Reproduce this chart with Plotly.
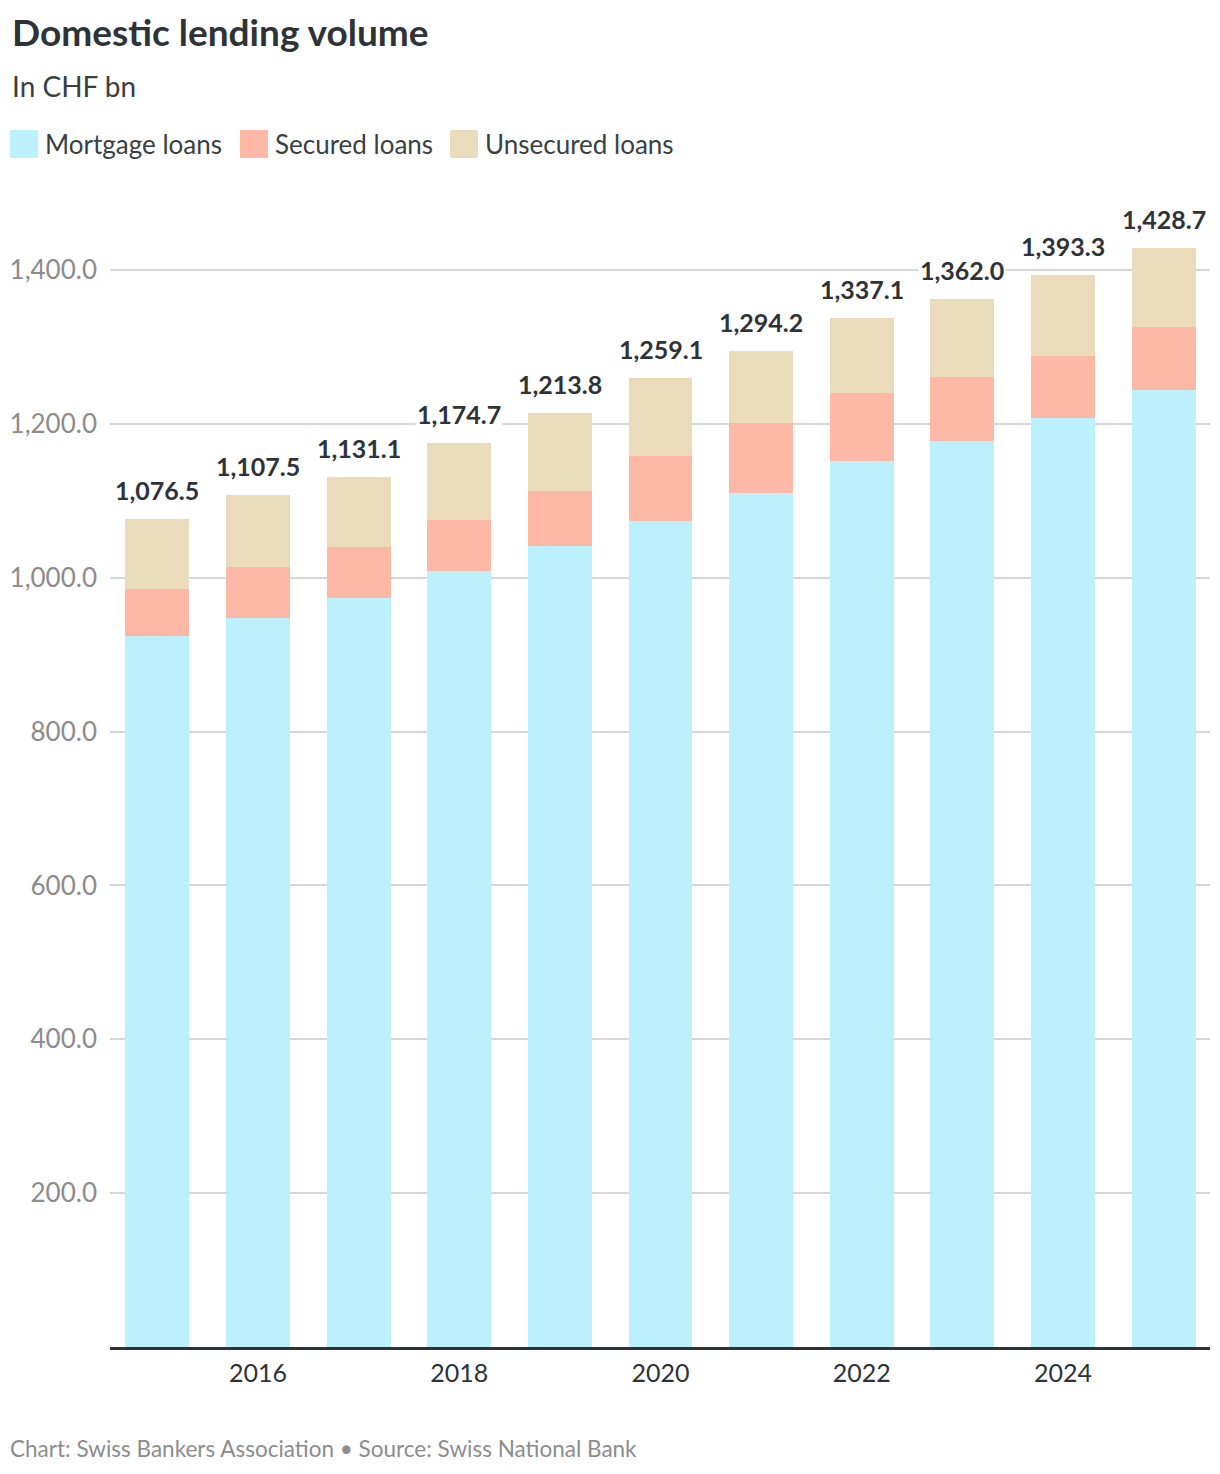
import plotly.graph_objects as go

years = [2015, 2016, 2017, 2018, 2019, 2020, 2021, 2022, 2023, 2024, 2025]
mortgage = [924.7, 948.1, 974.0, 1009.1, 1041.6, 1074.0, 1110.4, 1152.0, 1178.0, 1207.8, 1244.2]
secured = [61.0, 66.2, 66.3, 66.2, 71.4, 84.4, 90.6, 88.0, 83.0, 80.5, 81.8]
unsecured = [90.8, 93.2, 90.8, 99.4, 100.8, 100.7, 93.2, 97.1, 101.0, 105.0, 102.7]
totals = [1076.5, 1107.5, 1131.1, 1174.7, 1213.8, 1259.1, 1294.2, 1337.1, 1362.0, 1393.3, 1428.7]
y_ticks = [200, 400, 600, 800, 1000, 1200, 1400]
x_ticks = [2016, 2018, 2020, 2022, 2024]

series = [
    ("Mortgage loans", mortgage, "#bdf0fd"),
    ("Secured loans", secured, "#fdb8a6"),
    ("Unsecured loans", unsecured, "#eadcbb"),
]

# the page puts the figure 8px in from the top-left corner
OFF = 8
W, H = 1220 - OFF, 1474 - OFF
M_L, M_R, M_T, M_B = 110 - OFF, 10, 193 - OFF, 127
FONT = "Lato"
DARK = "#2e3337"
GREY = "#8c8c8c"


def px_x(x):
    # x in screenshot pixels -> paper coords
    return (x - OFF - M_L) / (W - M_L - M_R)


def px_y(y):
    return (H - M_B - (y - OFF)) / (H - M_T - M_B)


fig = go.Figure()
for name, vals, color in series:
    fig.add_trace(go.Bar(x=years, y=vals, name=name, marker_color=color,
                         marker_line_width=0, showlegend=False, hoverinfo="x+y"))

# total labels above each stack
for yr, tot in zip(years, totals):
    fig.add_annotation(x=yr, y=tot, text=f"<b>{tot:,.1f}</b>", showarrow=False,
                       yshift=29, bgcolor="white", borderpad=1,
                       font=dict(family=FONT, size=25, color=DARK))

# title block
fig.add_annotation(x=px_x(10), y=px_y(31), xref="paper", yref="paper", xanchor="left",
                   yanchor="middle", showarrow=False, text="<b>Domestic lending volume</b>",
                   font=dict(family=FONT, size=37, color=DARK))
fig.add_annotation(x=px_x(10), y=px_y(86), xref="paper", yref="paper", xanchor="left",
                   yanchor="middle", showarrow=False, text="In CHF bn",
                   font=dict(family=FONT, size=28, color="#3a3f43"))

# legend drawn by hand so the swatches match the original size
legend_x = [10, 240, 450]
for (name, _, color), lx in zip(series, legend_x):
    fig.add_shape(type="rect", xref="paper", yref="paper",
                  x0=px_x(lx), x1=px_x(lx + 28), y0=px_y(158), y1=px_y(130),
                  fillcolor=color, line_width=0)
    fig.add_annotation(x=px_x(lx + 33), y=px_y(144), xref="paper", yref="paper",
                       xanchor="left", yanchor="middle", showarrow=False, text=name,
                       font=dict(family=FONT, size=26, color="#3a3f43"))

fig.add_annotation(x=px_x(8), y=px_y(1448), xref="paper", yref="paper", xanchor="left",
                   yanchor="middle", showarrow=False,
                   text="Chart: Swiss Bankers Association • Source: Swiss National Bank",
                   font=dict(family=FONT, size=22.5, color=GREY))

fig.update_layout(
    width=W, height=H,
    margin=dict(l=M_L, r=M_R, t=M_T, b=M_B),
    barmode="stack", bargap=0.365,
    plot_bgcolor="white", paper_bgcolor="white",
    font=dict(family=FONT),
    showlegend=False,
    xaxis=dict(range=[2014.53, 2025.46], tickvals=x_ticks, ticktext=[str(t) for t in x_ticks],
               showgrid=False, showline=True, linecolor="#2e3337", linewidth=3,
               ticks="", ticklabelstandoff=2, automargin=False,
               tickfont=dict(family=FONT, size=25, color=DARK), zeroline=False),
    yaxis=dict(range=[0, 1500], tickvals=y_ticks, tickformat=",.1f",
               showgrid=True, gridcolor="#d6d6da", gridwidth=2, zeroline=False,
               showline=False, ticks="", ticklabelstandoff=12, automargin=False,
               tickfont=dict(family=FONT, size=26, color=GREY)),
)

fig.write_html("out.html")
